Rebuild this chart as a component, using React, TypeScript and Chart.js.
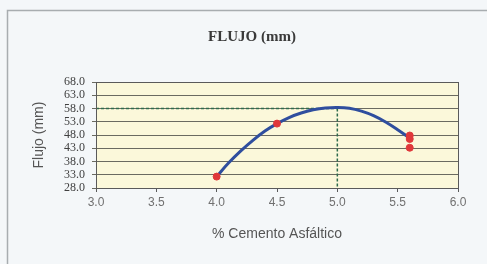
import React, { useEffect, useRef } from "react";
import { Chart, registerables } from "chart.js";

Chart.register(...registerables);

const titleText = "FLUJO (mm)";
const xTitle = "% Cemento Asfáltico";
const yTitle = "Flujo (mm)";

// fitted curve
const curveX = [4.0, 4.1, 4.2, 4.3, 4.4, 4.5, 4.6, 4.7, 4.8, 4.9, 5.0, 5.1, 5.2, 5.3, 5.4, 5.5, 5.6];
const curveY = [32.3, 37.5, 42.0, 46.0, 49.5, 52.3, 54.6, 56.3, 57.5, 58.2, 58.4, 58.1, 57.0, 55.3, 52.9, 50.0, 46.8];

// measured points
const pointsX = [4.0, 4.5, 5.6, 5.6, 5.6];
const pointsY = [32.3, 52.3, 47.8, 46.5, 43.2];

// optimum reference
const optX = 5.0;
const optY = 58.0;

const xMin = 3.0, xMax = 6.0, xStep = 0.5;
const yMin = 28.0, yMax = 68.0, yStep = 5.0;

export default function App() {
  const ref = useRef<HTMLCanvasElement | null>(null);
  useEffect(() => {
    if (!ref.current) return;
    const bgPlugin = {
      id: "bg",
      beforeDraw(chart: any) {
        const { ctx, chartArea } = chart;
        ctx.save();
        ctx.fillStyle = "#F4F7F9";
        ctx.fillRect(0, 0, chart.width, chart.height);
        ctx.strokeStyle = "#A8ADB0";
        ctx.lineWidth = 1.5;
        ctx.beginPath();
        ctx.moveTo(7.5, chart.height);
        ctx.lineTo(7.5, 10.5);
        ctx.lineTo(chart.width, 10.5);
        ctx.stroke();
        ctx.fillStyle = "#FBF8DA";
        ctx.fillRect(chartArea.left, chartArea.top, chartArea.right - chartArea.left, chartArea.bottom - chartArea.top);
        ctx.fillStyle = "#3a3a3a";
        ctx.font = "bold 15px 'Liberation Serif', serif";
        ctx.textAlign = "center";
        ctx.textBaseline = "middle";
        ctx.fillText(titleText, 252, 37);
        ctx.restore();
      },
      afterDraw(chart: any) {
        const { ctx, chartArea } = chart;
        ctx.save();
        ctx.strokeStyle = "#5a5a5a";
        ctx.lineWidth = 1;
        ctx.strokeRect(Math.round(chartArea.left) + 0.5, Math.round(chartArea.top) + 0.5,
          Math.round(chartArea.right - chartArea.left), Math.round(chartArea.bottom - chartArea.top));
        ctx.restore();
      },
    };
    const chart = new Chart(ref.current, {
      type: "scatter",
      data: {
        datasets: [
          {
            data: pointsX.map((x, i) => ({ x, y: pointsY[i] })),
            backgroundColor: "#E0383A",
            borderColor: "#E0383A",
            pointRadius: 3.5,
            showLine: false,
            order: 0,
          },
          {
            data: curveX.map((x, i) => ({ x, y: curveY[i] })),
            borderColor: "#2F4E9E",
            borderWidth: 3,
            pointRadius: 0,
            showLine: true,
            tension: 0.4,
            order: 1,
          },
          {
            data: [{ x: xMin, y: optY }, { x: optX, y: optY }],
            borderColor: "#2E6B4C",
            borderWidth: 1.5,
            borderDash: [3, 2],
            pointRadius: 0,
            showLine: true,
            order: 2,
          },
          {
            data: [{ x: optX, y: optY }, { x: optX, y: yMin }],
            borderColor: "#2E6B4C",
            borderWidth: 1.5,
            borderDash: [3, 2],
            pointRadius: 0,
            showLine: true,
            order: 2,
          },
        ],
      },
      options: {
        responsive: false,
        animation: false,
        devicePixelRatio: 1,
        layout: { padding: { left: 8, top: 82, right: 29, bottom: 0 } },
        plugins: { legend: { display: false }, tooltip: { enabled: false }, title: { display: false } },
        scales: {
          x: {
            type: "linear",
            min: xMin,
            max: xMax,
            afterFit: (s: any) => { s.height = 76; },
            ticks: {
              stepSize: xStep,
              padding: 3,
              autoSkip: false,
              color: "#707070",
              font: { family: "'Liberation Sans', Arial, sans-serif", size: 12 },
              callback: (v: any) => Number(v).toFixed(1),
            },
            grid: { drawOnChartArea: false, drawTicks: true, tickLength: 4, color: "#5a5a5a" },
            border: { display: true, color: "#5a5a5a", width: 1 },
            title: {
              display: true,
              text: xTitle,
              color: "#555555",
              font: { family: "'Liberation Sans', Arial, sans-serif", size: 14 },
              padding: { top: 0, bottom: 21 },
            },
          },
          y: {
            type: "linear",
            min: yMin,
            max: yMax,
            afterFit: (s: any) => { s.width = 88; },
            ticks: {
              stepSize: yStep,
              padding: 7,
              autoSkip: false,
              color: "#404040",
              font: { family: "'Liberation Serif', 'Times New Roman', serif", size: 12, lineHeight: 1 },
              callback: (v: any) => Number(v).toFixed(1),
            },
            grid: { drawOnChartArea: true, drawTicks: true, tickLength: 4, color: "#6a6a60", lineWidth: 1 },
            border: { display: true, color: "#5a5a5a", width: 1 },
            title: {
              display: true,
              text: yTitle,
              color: "#555555",
              font: { family: "'Liberation Sans', Arial, sans-serif", size: 14 },
              padding: { top: 23, bottom: 0 },
            },
          },
        },
      },
      plugins: [bgPlugin],
    } as any);
    return () => chart.destroy();
  }, []);
  return (
    <div style={{ position: "fixed", left: 0, top: 0, width: 487, height: 264 }}>
      <canvas ref={ref} width={487} height={264} style={{ display: "block" }} />
    </div>
  );
}
